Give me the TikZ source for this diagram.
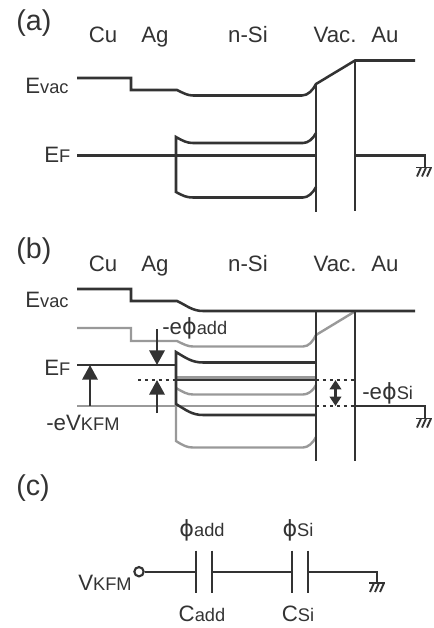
\documentclass[tikz,border=0pt]{standalone}
\usepackage{fontspec}
\setmainfont{Liberation Sans}
\newfontfamily\phifont{DejaVu Sans}
\usetikzlibrary{arrows.meta}

\definecolor{bandblack}{gray}{0.2}
\definecolor{bandgray}{gray}{0.6}
\newcommand{\sbs}[1]{{\fontsize{13.7}{14}\selectfont #1}}
\newcommand{\phisym}{{\phifont\char"03D5}}

\tikzset{
  band/.style={line width=1.9pt,bandblack,line join=miter},
  bandg/.style={line width=1.8pt,bandgray,line join=miter},
  wall/.style={line width=1.7pt,bandblack},
  dots/.style={line width=1.8pt,bandblack,dash pattern=on 2.6pt off 2.6pt},
  wire/.style={line width=1.5pt,bandblack},
  plate/.style={line width=1.8pt,bandblack},
  lbl/.style={anchor=base,inner sep=0pt,text=bandblack,font=\fontsize{16.7}{18}\selectfont},
  lblw/.style={lbl,anchor=base west},
  panel/.style={lblw,font=\fontsize{21.5}{22}\selectfont},
  bigarrow/.style={line width=1.8pt,bandblack,-{Triangle[length=11pt,width=11.5pt]}},
  smallarrow/.style={line width=1.8pt,bandblack,{Triangle[length=7pt,width=8.5pt]}-{Triangle[length=7pt,width=8.5pt]}},
  gnd/.pic={
    \draw[line width=1.4pt,bandblack] (-8,0) -- (8,0);
    \draw[line width=1.4pt,bandblack] (-3,0) -- (-7,9) (2,0) -- (-2,9) (7,0) -- (3,9);
  }
}

\begin{document}
\begin{tikzpicture}[x=0.75pt,y=-0.75pt]
  \useasboundingbox (0,0) rectangle (433,628);

  % Panel (a)
  \node[panel] (tita) at (16,31) {(a)};
  \node[lbl] (cua) at (103,42.7) {Cu};
  \node[lbl] (aga) at (155,42.7) {Ag};
  \node[lbl] (sia) at (248,42.7) {n-Si};
  \node[lbl] (vaca) at (335,42.7) {Vac.};
  \node[lbl] (aua) at (385,42.7) {Au};
  \node[lblw] (evaca) at (25,93) {E\sbs{vac}};
  \node[lblw] (efa) at (44,162) {E\sbs{F}};

  % vacuum level and walls
  \draw[band] (77,78) -- (131,78) -- (131,90) -- (177,90)
    .. controls (184,93.5) and (188,95.5) .. (193,95.5) -- (302,95.5)
    .. controls (308,95.5) and (313,90) .. (316,84) -- (355,60.5) -- (415,60.5);
  \draw[wall] (316,84) -- (316,212);
  \draw[wall] (355,60.5) -- (355,211);
  % band edges
  \draw[band] (316,133) .. controls (313,139) and (308,143) .. (303,143) -- (193,143)
    .. controls (187,143) and (183,141) .. (176,137) -- (176,192)
    .. controls (183,196) and (187,197.5) .. (193,197.5) -- (303,197.5)
    .. controls (308,197.5) and (313,193) .. (316,187);
  % Fermi level
  \draw[band] (77,155.5) -- (316,155.5);
  \draw[band] (355,155.5) -- (425,155.5) -- (425,167);
  \pic at (424,167.5) {gnd};

  % Panel (b)
  \node[panel] (titb) at (16,258) {(b)};
  \node[lbl] (cub) at (103,271.7) {Cu};
  \node[lbl] (agb) at (155,271.7) {Ag};
  \node[lbl] (sib) at (248,271.7) {n-Si};
  \node[lbl] (vacb) at (335,271.7) {Vac.};
  \node[lbl] (aub) at (385,271.7) {Au};
  \node[lblw] (evacb) at (25,307) {E\sbs{vac}};
  \node[lblw] (efb) at (44,375.7) {E\sbs{F}};
  \node[lblw] (vkfmb) at (46,430.7) {-eV\sbs{KFM}};
  \node[lblw] (phiadd) at (162,334) {-e\phisym\sbs{add}};
  \node[lblw] (phisi) at (362,399) {-e\phisym\sbs{Si}};

  % gray bands, drawn first
  \draw[bandg] (77,328) -- (131,328) -- (131,341) -- (177,341)
    .. controls (184,344.5) and (188,346.5) .. (193,346.5) -- (303,346.5)
    .. controls (309,346.5) and (313,341) .. (316,335) -- (354,312);
  \draw[bandg] (316,385) .. controls (313,391) and (308,394.5) .. (303,394.5) -- (193,394.5)
    .. controls (187,394.5) and (183,392) .. (176,388);
  \draw[bandg] (176,404) -- (176,441)
    .. controls (183,445.5) and (187,447.5) .. (193,447.5) -- (303,447.5)
    .. controls (308,447.5) and (313,443) .. (316,437);
  \draw[bandg] (77,406) -- (316,406);
  \draw[bandg] (176,377.6) -- (316,377.6);

  % black bands
  \draw[band] (77,289) -- (131,289) -- (131,301) -- (177,301)
    .. controls (186,305) and (192,311) .. (203,311) -- (415,311);
  \draw[wall] (316,311) -- (316,461);
  \draw[wall] (355,311) -- (355,461);
  \draw[band] (77,365) -- (176,365);
  \draw[band] (316,362.5) -- (203,362.5)
    .. controls (192,362.5) and (186,358) .. (176,352) -- (176,404)
    .. controls (186,410) and (192,415) .. (203,415) -- (316,415);
  \draw[band] (176,380) -- (316,380);
  \draw[band] (355,406) -- (425,406) -- (425,418);
  \pic at (424,418.5) {gnd};
  \draw[dots] (138,380) -- (176,380);
  \draw[dots] (316,380) -- (355,380);
  \draw[dots] (316,406) -- (355,406);

  % arrows
  \coordinate (kfmtail) at (90,406);
  \coordinate (kfmtip) at (90,365);
  \coordinate (addtopa) at (157,329);
  \coordinate (addtopb) at (157,365);
  \coordinate (addbota) at (157,413);
  \coordinate (addbotb) at (157,380);
  \coordinate (sitop) at (335.5,380);
  \coordinate (sibot) at (335.5,406);
  \draw[bigarrow] (kfmtail) -- (kfmtip);
  \draw[bigarrow] (addtopa) -- (addtopb);
  \draw[bigarrow] (addbota) -- (addbotb);
  \draw[smallarrow] (sitop) -- (sibot);

  % Panel (c)
  \node[panel] (titc) at (16,495) {(c)};
  \node[lblw] (vkfmc) at (78,590.7) {V\sbs{KFM}};
  \node[lbl] (phicadd) at (202,536) {\phisym\sbs{add}};
  \node[lbl] (phicsi) at (298,536) {\phisym\sbs{Si}};
  \node[lbl] (cadd) at (202,621) {C\sbs{add}};
  \node[lbl] (csi) at (298,621) {C\sbs{Si}};

  \node[circle,draw=bandblack,line width=1.6pt,inner sep=0pt,minimum size=7pt] (term) at (139,571.7) {};
  \coordinate (addl) at (196,571.7);
  \coordinate (addr) at (212,571.7);
  \coordinate (sil) at (292,571.7);
  \coordinate (sir) at (308,571.7);
  \coordinate (gndc) at (377,583);
  \draw[wire] (term) -- (addl);
  \draw[wire] (addr) -- (sil);
  \draw[wire] (sir) -| (gndc);
  \draw[plate] (196,550.7) -- (196,593);
  \draw[plate] (212,550.7) -- (212,593);
  \draw[plate] (292,550.7) -- (292,593);
  \draw[plate] (308,550.7) -- (308,593);
  \pic at (gndc) {gnd};
\end{tikzpicture}
\end{document}
